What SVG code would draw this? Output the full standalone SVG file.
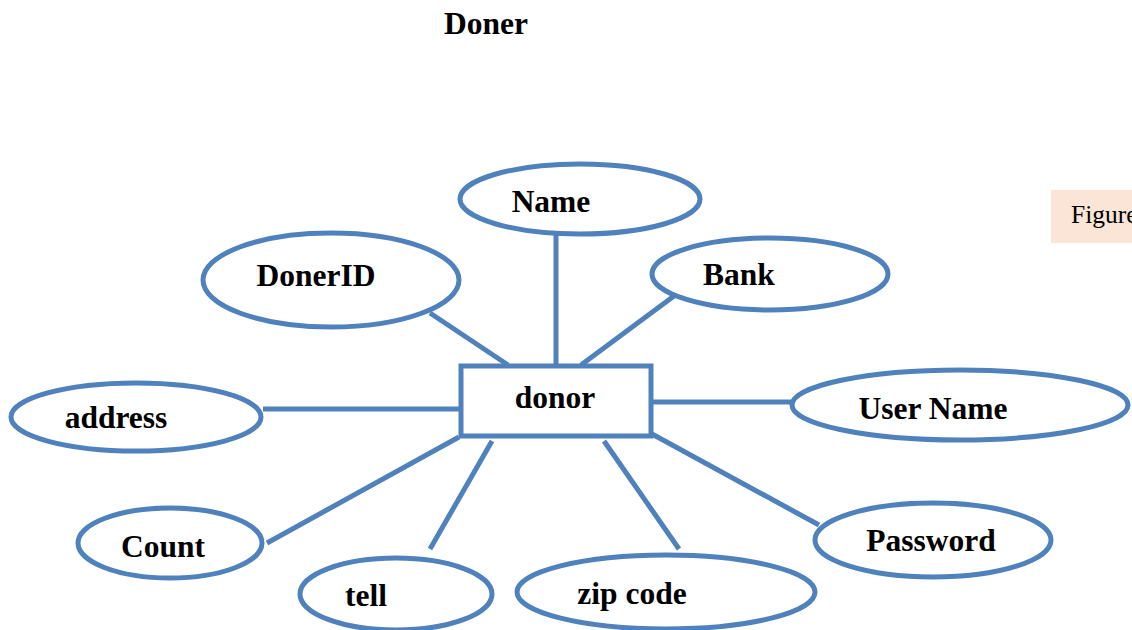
<svg xmlns="http://www.w3.org/2000/svg" width="1132" height="630" viewBox="0 0 1132 630">
  <style>
    .attr { fill: #ffffff; stroke: #4f81bd; stroke-width: 5; }
    .ent { fill: #ffffff; stroke: #4f81bd; stroke-width: 5; }
    .edge { stroke: #4f81bd; stroke-width: 5; fill: none; }
    text { font-family: 'Liberation Serif', 'DejaVu Serif', serif; }
    .lbl { font-weight: bold; font-size: 31.5px; fill: #000000; text-anchor: middle; }
    .note { font-size: 25.5px; fill: #000000; }
  </style>
  <rect width="1132" height="630" fill="#ffffff"/>

  <text class="lbl" x="486" y="34" font-family="Liberation Serif, serif">Doner</text>

  <!-- caption box at the right edge -->
  <g id="figure-note">
    <rect x="1051" y="190" width="90" height="53" fill="#fbe5d6"/>
    <text class="note" x="1071" y="223" font-family="Liberation Serif, serif">Figure</text>
  </g>

  <!-- connectors between entity and attributes -->
  <g id="connectors">
    <line class="edge" x1="556" y1="234" x2="556" y2="365"/>
    <line class="edge" x1="430" y1="313" x2="508" y2="365"/>
    <line class="edge" x1="674" y1="296" x2="581" y2="365"/>
    <line class="edge" x1="263" y1="409" x2="459" y2="409"/>
    <line class="edge" x1="652" y1="402" x2="792" y2="402"/>
    <line class="edge" x1="267" y1="543" x2="459" y2="437"/>
    <line class="edge" x1="430" y1="549" x2="492" y2="441"/>
    <line class="edge" x1="604" y1="441" x2="679" y2="549"/>
    <line class="edge" x1="652" y1="434" x2="819" y2="525"/>
  </g>

  <g id="donor">
    <rect class="ent" x="461" y="366" width="190" height="70"/>
    <text class="lbl" x="555" y="408" font-family="Liberation Serif, serif">donor</text>
  </g>

  <g id="name">
    <ellipse class="attr" cx="580" cy="199" rx="120" ry="35"/>
    <text class="lbl" x="551" y="212" font-family="Liberation Serif, serif">Name</text>
  </g>

  <g id="donerid">
    <ellipse class="attr" cx="331" cy="280" rx="128" ry="47"/>
    <text class="lbl" x="316" y="286" font-family="Liberation Serif, serif">DonerID</text>
  </g>

  <g id="bank">
    <ellipse class="attr" cx="770" cy="274" rx="118" ry="36"/>
    <text class="lbl" x="739" y="285" font-family="Liberation Serif, serif">Bank</text>
  </g>

  <g id="address">
    <ellipse class="attr" cx="136" cy="417" rx="125" ry="34"/>
    <text class="lbl" x="116" y="428" font-family="Liberation Serif, serif">address</text>
  </g>

  <g id="username">
    <ellipse class="attr" cx="960" cy="405" rx="168" ry="35"/>
    <text class="lbl" x="933" y="419" font-family="Liberation Serif, serif">User Name</text>
  </g>

  <g id="count">
    <ellipse class="attr" cx="170" cy="543" rx="92" ry="35"/>
    <text class="lbl" x="163" y="557" font-family="Liberation Serif, serif">Count</text>
  </g>

  <g id="tell">
    <ellipse class="attr" cx="396" cy="594" rx="96" ry="36"/>
    <text class="lbl" x="366" y="606" font-family="Liberation Serif, serif">tell</text>
  </g>

  <g id="zipcode">
    <ellipse class="attr" cx="666" cy="592" rx="149" ry="37"/>
    <text class="lbl" x="632" y="604" font-family="Liberation Serif, serif">zip code</text>
  </g>

  <g id="password">
    <ellipse class="attr" cx="933" cy="540" rx="118" ry="37"/>
    <text class="lbl" x="931" y="551" font-family="Liberation Serif, serif">Password</text>
  </g>
</svg>
